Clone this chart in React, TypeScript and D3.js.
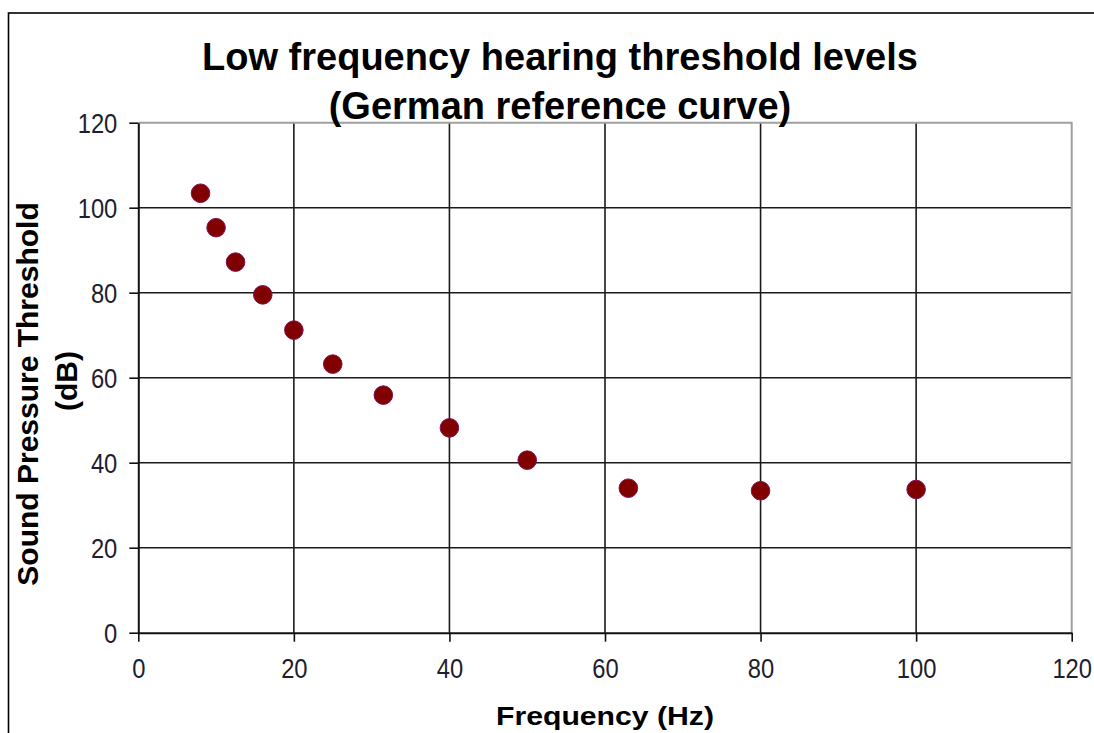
import React, { useEffect, useRef } from 'react';
import * as d3 from 'd3';

// 1/3-octave band centre frequencies (Hz) and threshold levels (dB)
const frequencies = [8, 10, 12.5, 16, 20, 25, 31.5, 40, 50, 63, 80, 100];
const thresholds = [103.4, 95.3, 87.2, 79.5, 71.2, 63.2, 55.9, 48.2, 40.6, 34.0, 33.4, 33.7];

const xTicks = [0, 20, 40, 60, 80, 100, 120];
const yTicks = [0, 20, 40, 60, 80, 100, 120];

const titleLines = ['Low frequency hearing threshold levels', '(German reference curve)'];
const yTitleLines = ['Sound Pressure  Threshold', '(dB)'];
const xTitle = 'Frequency (Hz)';

export default function App() {
  const svgRef = useRef<SVGSVGElement | null>(null);

  useEffect(() => {
    if (!svgRef.current) return;
    const width = 1094;
    const height = 733;
    const m = { left: 138.3, top: 122.7, right: 1071.7, bottom: 632.7 };
    const font = "'Liberation Sans', Arial, sans-serif";

    const svg = d3.select(svgRef.current);
    svg.selectAll('*').remove();
    svg.attr('width', width).attr('height', height).attr('viewBox', [0, 0, width, height]);

    svg.append('rect').attr('width', width).attr('height', height).attr('fill', '#fff');

    // outer chart frame (runs off the right / bottom edges)
    svg.append('rect')
      .attr('x', 8.5).attr('y', 13)
      .attr('width', width + 20).attr('height', height + 20)
      .attr('fill', 'none').attr('stroke', '#000').attr('stroke-width', 1.6);

    const x = d3.scaleLinear().domain([0, 120]).range([m.left, m.right]);
    const y = d3.scaleLinear().domain([0, 120]).range([m.bottom, m.top]);

    // gridlines
    const grid = svg.append('g').attr('stroke', '#1a1a1a').attr('stroke-width', 1.6);
    grid.selectAll('line.v')
      .data(xTicks.filter(d => d > 0 && d < 120))
      .join('line')
      .attr('class', 'v')
      .attr('x1', d => x(d)).attr('x2', d => x(d))
      .attr('y1', m.top).attr('y2', m.bottom);
    grid.selectAll('line.h')
      .data(yTicks.filter(d => d > 0 && d < 120))
      .join('line')
      .attr('class', 'h')
      .attr('x1', m.left).attr('x2', m.right)
      .attr('y1', d => y(d)).attr('y2', d => y(d));

    // grey plot-area border (top and right)
    svg.append('path')
      .attr('d', `M${m.left},${m.top}H${m.right}V${m.bottom}`)
      .attr('fill', 'none').attr('stroke', '#a0a0a0').attr('stroke-width', 2);

    // axes
    const xAxis = svg.append('g')
      .attr('transform', `translate(0,${m.bottom})`)
      .call(d3.axisBottom(x).tickValues(xTicks).tickSize(9).tickSizeOuter(0));
    const yAxis = svg.append('g')
      .attr('transform', `translate(${m.left},0)`)
      .call(d3.axisLeft(y).tickValues(yTicks).tickSize(9).tickSizeOuter(0));

    [xAxis, yAxis].forEach(a => {
      a.select('.domain').attr('stroke', '#111').attr('stroke-width', 2);
      a.selectAll('.tick line').attr('stroke', '#111').attr('stroke-width', 1.6);
      a.selectAll('.tick text')
        .attr('fill', '#1e1e2e')
        .style('font-family', font)
        .style('font-size', '27px')
        .attr('x', null).attr('y', null).attr('dy', null);
    });
    xAxis.selectAll('.tick text')
      .attr('text-anchor', 'middle')
      .attr('transform', 'translate(0,45.5) scale(0.88,1)');
    yAxis.selectAll('.tick text')
      .attr('text-anchor', 'end')
      .attr('transform', 'translate(-21,9.8) scale(0.88,1)');

    // markers
    svg.append('g')
      .selectAll('circle')
      .data(frequencies.map((f, i) => ({ f, v: thresholds[i] })))
      .join('circle')
      .attr('cx', d => x(d.f))
      .attr('cy', d => y(d.v))
      .attr('r', 9.3)
      .attr('fill', '#800000')
      .attr('stroke', '#84105c')
      .attr('stroke-width', 1);

    // title
    svg.append('g')
      .attr('text-anchor', 'middle')
      .style('font-family', font)
      .style('font-weight', 'bold')
      .style('font-size', '38px')
      .selectAll('text')
      .data(titleLines)
      .join('text')
      .attr('x', 560)
      .attr('y', (d, i) => 70 + i * 49)
      .attr('fill', '#000')
      .text(d => d);

    // y-axis title
    svg.append('g')
      .attr('text-anchor', 'middle')
      .style('font-family', font)
      .style('font-weight', 'bold')
      .style('font-size', '30px')
      .selectAll('text')
      .data(yTitleLines)
      .join('text')
      .attr('transform', (d, i) => i === 0 ? 'translate(38,394) rotate(-90)' : 'translate(77,381) rotate(-90)')
      .attr('fill', '#000')
      .text(d => d);

    // x-axis title
    svg.append('text')
      .attr('x', x(60))
      .attr('y', 725)
      .attr('text-anchor', 'middle')
      .style('font-family', font)
      .style('font-weight', 'bold')
      .style('font-size', '26px')
      .attr('textLength', 218)
      .attr('lengthAdjust', 'spacingAndGlyphs')
      .attr('fill', '#000')
      .text(xTitle);
  }, []);

  return (
    <svg
      ref={svgRef}
      style={{ position: 'absolute', left: 0, top: 0, display: 'block' }}
    ></svg>
  );
}
